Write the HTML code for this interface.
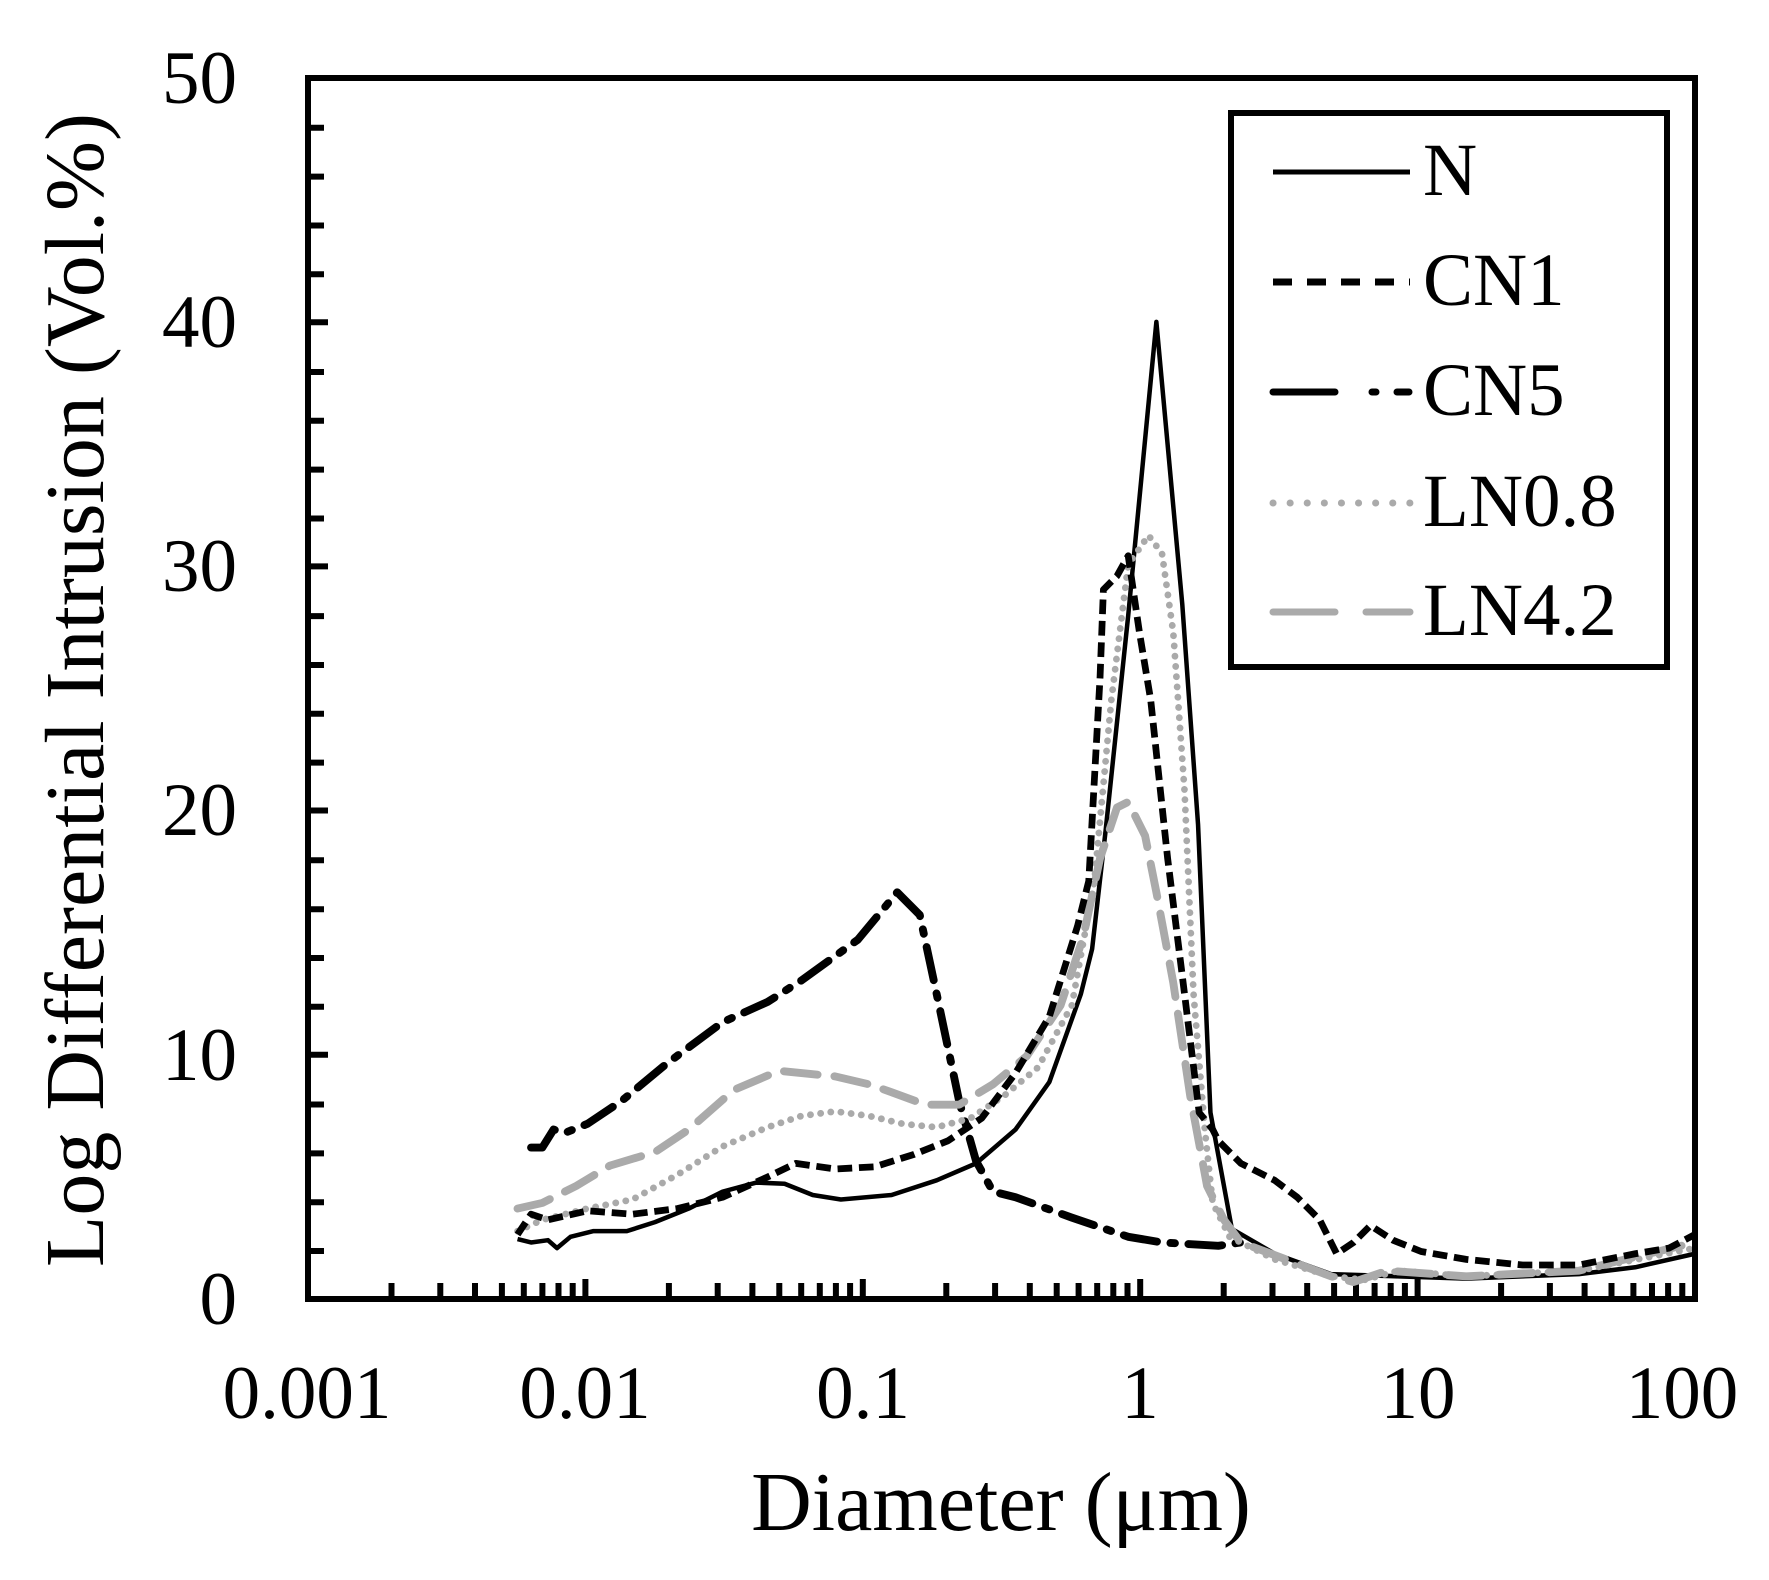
<!DOCTYPE html>
<html><head><meta charset="utf-8"><style>
html,body{margin:0;padding:0;background:#fff;}
svg{display:block;}
text{font-family:"Liberation Serif",serif;fill:#000;}
</style></head><body>
<svg width="1769" height="1580" viewBox="0 0 1769 1580" xmlns="http://www.w3.org/2000/svg">
<rect width="1769" height="1580" fill="#fff"/>
<g stroke="#000" stroke-width="6">
<path d="M308 127.8h16M308 176.6h16M308 225.5h16M308 274.3h16M308 372h16M308 420.8h16M308 469.6h16M308 518.5h16M308 616.1h16M308 665h16M308 713.8h16M308 762.6h16M308 860.3h16M308 909.2h16M308 958h16M308 1006.8h16M308 1104.5h16M308 1153.4h16M308 1202.2h16M308 1251h16"/>
<path d="M308 322.3h20M308 566.4h20M308 810.5h20M308 1054.7h20"/>
</g>
<path stroke="#000" stroke-width="6" d="
M391.5 1299v-16M440.3 1299v-16M475 1299v-16M501.9 1299v-16M523.8 1299v-16M542.4 1299v-16M558.5 1299v-16M572.7 1299v-16
M668.9 1299v-16M717.7 1299v-16M752.4 1299v-16M779.3 1299v-16M801.2 1299v-16M819.8 1299v-16M835.9 1299v-16M850.1 1299v-16
M946.3 1299v-16M995.1 1299v-16M1029.8 1299v-16M1056.7 1299v-16M1078.6 1299v-16M1097.2 1299v-16M1113.3 1299v-16M1127.5 1299v-16
M1223.7 1299v-16M1272.5 1299v-16M1307.2 1299v-16M1334.1 1299v-16M1356 1299v-16M1374.6 1299v-16M1390.7 1299v-16M1404.9 1299v-16
M1501.1 1299v-16M1549.9 1299v-16M1584.6 1299v-16M1611.5 1299v-16M1633.4 1299v-16M1652 1299v-16M1668.1 1299v-16M1682.3 1299v-16
M585.4 1299v-20M862.8 1299v-20M1140.2 1299v-20M1417.6 1299v-20"/>
<g transform="matrix(1.1267 0 0 1.1295 1.5 0)" fill="none" stroke-linejoin="round">
<path stroke="#000" stroke-width="4" d="M458 1097L470 1100L485 1098L493 1105L505 1095L525 1090L555 1090L580 1082L610 1070L640 1055L670 1047L695 1048L720 1058L745 1062L790 1058L830 1045L865 1030L900 1000L930 958L958 880L968 840L980 735L1000 545L1025 285L1048 535L1062 730L1073 985L1092 1088L1130 1110L1180 1128L1240 1130L1300 1132L1400 1128L1450 1122L1503 1110"/>
<path stroke="#000" stroke-width="7" stroke-dasharray="30 12 4 12" stroke-linecap="round" d="M470 1016L480 1016L490 1000L500 1003L520 995L550 975L590 942L640 905L680 887L710 868L760 832L795 790L815 810L830 880L850 975L865 1028L880 1055L900 1060L950 1078L1000 1095L1030 1100L1080 1103L1100 1100"/>
<path stroke="#aaa" stroke-width="7" stroke-dasharray="30 15" stroke-linecap="round" d="M458 1070L480 1065L510 1050L540 1032L580 1020L610 1000L650 965L690 948L710 950L740 953L770 960L790 967L820 978L850 978L880 960L910 935L940 890L960 830L975 760L990 715L1000 710L1015 740L1025 790L1040 870L1055 970L1070 1050L1085 1080L1100 1100L1140 1115L1180 1130L1200 1135L1230 1125L1300 1130L1400 1125L1503 1100"/>
<path stroke="#aaa" stroke-width="6" stroke-dasharray="0.1 9" stroke-linecap="round" d="M458 1090L480 1080L520 1070L560 1062L600 1040L640 1015L680 998L710 988L740 984L770 988L800 995L830 998L860 990L890 970L920 945L950 890L970 780L985 620L1000 500L1018 474L1030 490L1040 560L1050 700L1058 880L1068 1000L1075 1065L1090 1095L1130 1115L1180 1130L1210 1133L1240 1125L1300 1130L1400 1125L1503 1105"/>
<path stroke="#000" stroke-width="6" stroke-dasharray="13 6" d="M458 1093L470 1075L485 1080L520 1072L560 1075L600 1070L640 1060L680 1042L705 1030L740 1035L775 1033L810 1022L840 1010L870 990L900 950L930 900L955 820L965 780L975 600L978 522L990 510L1000 492L1010 560L1020 620L1035 760L1050 880L1063 985L1075 1000L1080 1010L1100 1030L1130 1045L1150 1060L1170 1080L1185 1110L1200 1100L1215 1085L1235 1098L1260 1108L1300 1115L1350 1120L1400 1120L1450 1110L1480 1105L1503 1093"/>
</g>
<rect x="308" y="78" width="1387" height="1221" fill="none" stroke="#000" stroke-width="6"/>
<g font-size="75" text-anchor="end">
<text x="237" y="103">50</text>
<text x="237" y="347">40</text>
<text x="237" y="591">30</text>
<text x="237" y="835">20</text>
<text x="237" y="1080">10</text>
<text x="237" y="1324">0</text>
</g>
<g font-size="75" text-anchor="middle">
<text x="307" y="1418">0.001</text>
<text x="585" y="1418">0.01</text>
<text x="863" y="1418">0.1</text>
<text x="1140" y="1418">1</text>
<text x="1418" y="1418">10</text>
<text x="1682" y="1418">100</text>
</g>
<text x="1001" y="1530" font-size="84" text-anchor="middle">Diameter (μm)</text>
<text transform="translate(103 690) rotate(-90)" font-size="84" text-anchor="middle">Log Differential Intrusion (Vol.%)</text>
<rect x="1231" y="113" width="436" height="554" fill="#fff" stroke="#000" stroke-width="6"/>
<g fill="none">
<line x1="1273" y1="172" x2="1410" y2="172" stroke="#000" stroke-width="5"/>
<line x1="1273" y1="282" x2="1410" y2="282" stroke="#000" stroke-width="7" stroke-dasharray="19 15"/>
<path d="M1273 392h62M1372 392h4M1397 392h12" stroke="#000" stroke-width="7" stroke-linecap="round"/>
<line x1="1273" y1="503" x2="1410" y2="503" stroke="#aaa" stroke-width="7" stroke-dasharray="0.1 17" stroke-linecap="round"/>
<path d="M1273 612h62M1366 612h44" stroke="#aaa" stroke-width="7" stroke-linecap="round"/>
</g>
<g font-size="75">
<text x="1423" y="195">N</text>
<text x="1423" y="305">CN1</text>
<text x="1423" y="415">CN5</text>
<text x="1423" y="526">LN0.8</text>
<text x="1423" y="635">LN4.2</text>
</g>
</svg>
</body></html>
